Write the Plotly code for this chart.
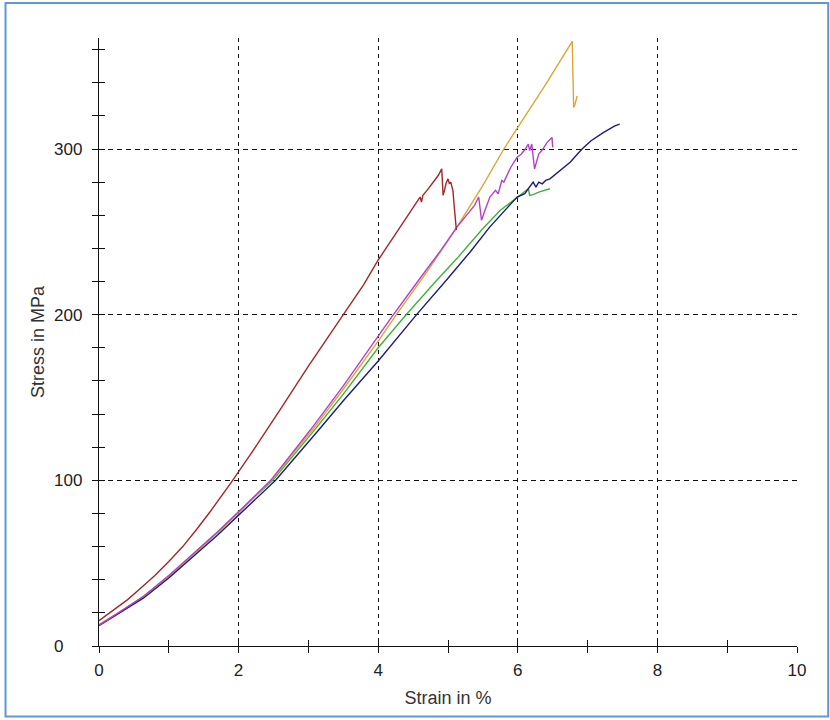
import plotly.graph_objects as go

# ---- data ----
red_x = [0, 0.2, 0.41, 0.6, 0.8, 1.0, 1.2, 1.4, 1.6, 1.89, 2.03, 2.2, 2.6, 3.0, 3.5, 3.79, 4.0, 4.3, 4.55, 4.6, 4.62,
         4.64, 4.7, 4.8, 4.86, 4.91, 4.93, 4.95, 4.97, 5.0, 5.02, 5.04, 5.07, 5.09, 5.12]
red_y = [15.3, 21.5, 28, 35, 42.5, 51, 60, 70.5, 81.5, 98.5, 107, 117.5, 143, 169, 200, 218, 233, 252, 268, 271, 268,
         272, 275, 281, 284, 288, 272, 275, 279, 282, 279, 280, 275, 265, 251]

purple_x = [0, 0.3, 0.64, 1.0, 1.36, 1.7, 2.0, 2.46, 3.03, 3.5, 4.0, 4.2, 4.6, 4.9, 5.13, 5.25, 5.3, 5.38, 5.44,
            5.48, 5.53, 5.6, 5.68, 5.72, 5.77, 5.8, 5.9, 5.99, 6.05, 6.11, 6.15, 6.17, 6.2, 6.24, 6.3, 6.36,
            6.42, 6.49, 6.5]
purple_y = [12.5, 20.5, 30, 42.5, 56, 69, 81, 100, 130.5, 157, 187, 199, 222, 239, 253, 259, 262, 266, 271,
            257, 263, 271, 275, 273, 281, 280, 289, 295, 297, 300, 303, 299, 303, 288, 297, 300,
            304, 307, 301]

orange_x = [0, 0.3, 0.64, 1.0, 1.36, 1.7, 2.0, 2.47, 3.05, 3.5, 4.0, 4.26, 4.7, 5.1, 5.5, 5.8, 6.0, 6.4, 6.78,
            6.79, 6.8, 6.82, 6.85]
orange_y = [13, 20.5, 30, 42, 55.5, 68.5, 80.5, 100, 130, 155, 184, 200, 226, 251, 278, 300, 313, 339, 365,
            340, 325, 327, 332]

green_x = [0, 0.3, 0.64, 1.0, 1.36, 1.7, 2.0, 2.49, 3.08, 3.5, 4.0, 4.36, 4.8, 5.13, 5.5, 5.75, 6.0, 6.15,
           6.17, 6.22, 6.3, 6.38, 6.46]
green_y = [12.8, 20.5, 30, 42, 55.5, 68.5, 81, 100, 130, 152, 180, 198, 219, 234, 252, 263, 271, 276,
           272, 272.5, 274, 275, 276]

blue_x = [0, 0.3, 0.64, 1.0, 1.36, 1.7, 2.0, 2.53, 3.15, 3.5, 4.0, 4.55, 5.0, 5.32, 5.6, 5.99, 6.1, 6.15, 6.2,
          6.22, 6.26, 6.3, 6.35, 6.4, 6.46, 6.61, 6.75, 6.92, 7.05, 7.23, 7.32, 7.39, 7.46]
blue_y = [12.3, 20, 29, 41, 54.5, 67, 79, 100, 130.5, 148, 172, 200, 222, 238, 253, 271, 273, 276, 279,
          280, 277, 280, 279, 281, 282, 287, 292, 300, 305, 310, 312.5, 314, 315]

x_ticks = [0, 2, 4, 6, 8, 10]
y_ticks = [0, 100, 200, 300]
y_ticktext = ["0\u2007\u2007", "100", "200", "300"]
x_title = "Strain in %"
y_title = "Stress in MPa"

series = [
    (green_x, green_y, "#3cb43c"),
    (orange_x, orange_y, "#dea535"),
    (blue_x, blue_y, "#1c1c7c"),
    (purple_x, purple_y, "#b540c8"),
    (red_x, red_y, "#a3262a"),
]

fig = go.Figure()
for xs, ys, col in series:
    fig.add_trace(go.Scatter(x=xs, y=ys, mode="lines", line=dict(color=col, width=1.4),
                             showlegend=False, hoverinfo="skip"))

# invisible trace on overlay axes to draw inward ticks
fig.add_trace(go.Scatter(x=[None], y=[None], xaxis="x2", yaxis="y2", showlegend=False, hoverinfo="skip"))

FONT = "Liberation Sans, Arial, sans-serif"
XR = [0, 10]
YR = [0, 367]
tickcol = "#111111"

fig.update_layout(
    width=830, height=720,
    margin=dict(l=98.5, r=33.2, t=38, b=73.5, pad=0, autoexpand=False),
    paper_bgcolor="white", plot_bgcolor="white",
    font=dict(family=FONT, size=17, color="#222222"),
    xaxis=dict(range=XR, tickvals=x_ticks, showline=True, linecolor=tickcol, linewidth=1.3,
               ticks="outside", ticklen=6, tickwidth=1.3, tickcolor=tickcol,
               minor=dict(dtick=1, tick0=0, ticks="outside", ticklen=6, tickwidth=1.3, tickcolor=tickcol,
                          showgrid=False),
               showgrid=True, gridcolor="#111111", gridwidth=1.4, griddash="4px,4px",
               zeroline=False, ticklabelstandoff=2,
               title=dict(text=x_title, font=dict(size=18, color="#333333"), standoff=12),
               fixedrange=True),
    yaxis=dict(range=YR, tickvals=y_ticks, ticktext=y_ticktext, showline=True, linecolor=tickcol,
               linewidth=1.3, ticks="outside", ticklen=6, tickwidth=1.3, tickcolor=tickcol,
               minor=dict(dtick=20, tick0=0, ticks="outside", ticklen=6, tickwidth=1.3, tickcolor=tickcol,
                          showgrid=False),
               showgrid=True, gridcolor="#111111", gridwidth=1.4, griddash="5px,4px",
               zeroline=False, ticklabelstandoff=6,
               title=dict(text=y_title, font=dict(size=18, color="#333333"), standoff=4),
               fixedrange=True),
    xaxis2=dict(range=XR, overlaying="x", anchor="y2", side="bottom", tickvals=x_ticks, showline=False,
                ticks="inside", ticklen=6, tickwidth=1.3, tickcolor=tickcol, showticklabels=False,
                minor=dict(dtick=1, tick0=0, ticks="inside", ticklen=6, tickwidth=1.3, tickcolor=tickcol,
                           showgrid=False),
                showgrid=False, zeroline=False, fixedrange=True),
    yaxis2=dict(range=YR, overlaying="y", anchor="x2", side="left", tickvals=y_ticks, showline=False,
                ticks="inside", ticklen=6, tickwidth=1.3, tickcolor=tickcol, showticklabels=False,
                minor=dict(dtick=20, tick0=0, ticks="inside", ticklen=6, tickwidth=1.3, tickcolor=tickcol,
                           showgrid=False),
                showgrid=False, zeroline=False, fixedrange=True),
    shapes=[dict(type="rect", xref="paper", yref="paper",
                 x0=-0.1339, x1=1.0447, y0=-0.1159, y1=1.0576,
                 line=dict(color="#5b9bd5", width=2), layer="below")],
)

fig.write_html("out.html", config={"displayModeBar": False},
               post_script="document.body.style.margin='0';document.body.style.overflow='hidden';")
